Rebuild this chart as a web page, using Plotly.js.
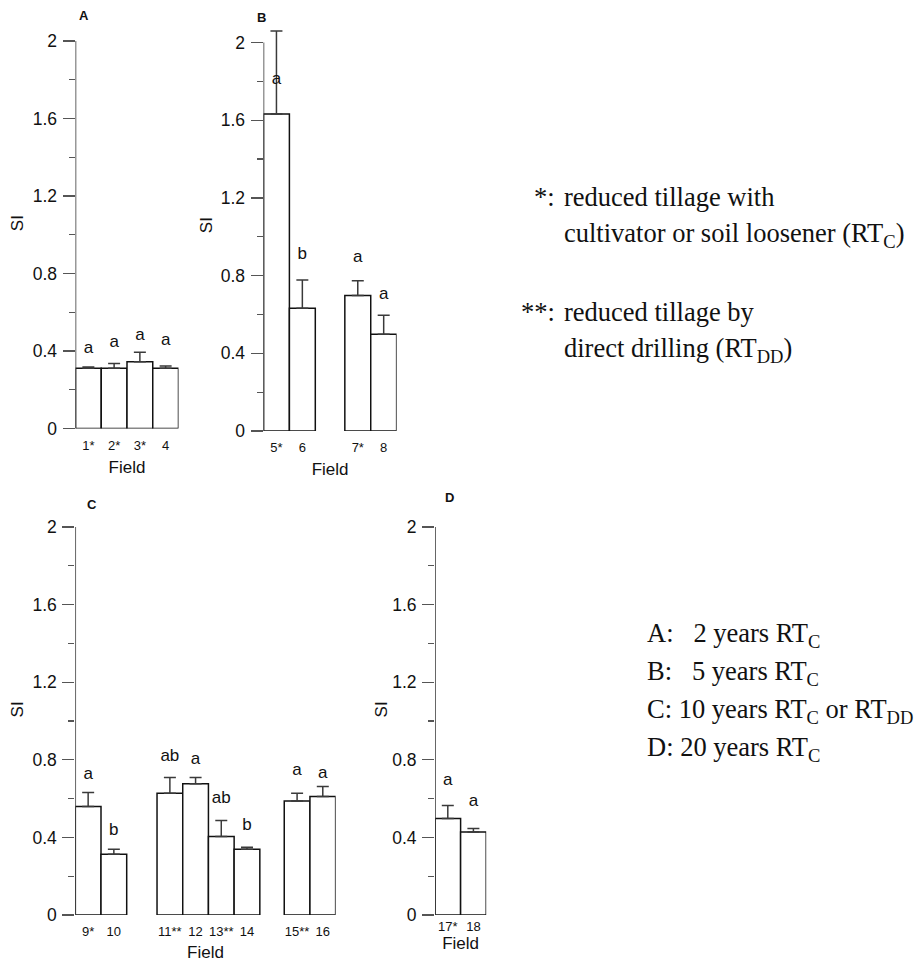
<!DOCTYPE html>
<html><head><meta charset="utf-8">
<script src="https://cdn.plot.ly/plotly-3.0.1.min.js"></script>
<style>html,body{margin:0;padding:0;background:#fff}</style>
</head><body><div id="chart" style="width:915px;height:967px"></div>
<script>
// ---------- data ----------
const fieldsA = ['1*', '2*', '3*', '4'];
const meanA   = [0.311, 0.311, 0.345, 0.311];
const errA    = [0.006, 0.025, 0.048, 0.012];
const lettersA = ['a', 'a', 'a', 'a'];
const letterYA = [0.414, 0.445, 0.479, 0.453];
const groupsA = [4];

const fieldsB = ['5*', '6', '7*', '8'];
const meanB   = [1.632, 0.632, 0.697, 0.498];
const errB    = [0.427, 0.145, 0.077, 0.098];
const lettersB = ['a', 'b', 'a', 'a'];
const letterYB = [1.807, 0.906, 0.894, 0.700];
const groupsB = [2, 2];

const fieldsC = ['9*', '10', '11**', '12', '13**', '14', '15**', '16'];
const meanC   = [0.559, 0.313, 0.628, 0.676, 0.404, 0.339, 0.588, 0.611];
const errC    = [0.072, 0.026, 0.081, 0.033, 0.083, 0.010, 0.040, 0.051];
const lettersC = ['a', 'b', 'ab', 'a', 'ab', 'b', 'a', 'a'];
const letterYC = [0.723, 0.435, 0.817, 0.800, 0.597, 0.459, 0.745, 0.728];
const groupsC = [2, 4, 2];

const fieldsD = ['17*', '18'];
const meanD   = [0.497, 0.428];
const errD    = [0.068, 0.018];
const lettersD = ['a', 'a'];
const letterYD = [0.690, 0.586];
const groupsD = [2];

const yTickVals = [0, 0.4, 0.8, 1.2, 1.6, 2];
const yTickText = ['0', '0.4', '0.8', '1.2', '1.6', '2'];

const noteLines = [
  ['*:', 'reduced tillage with'],
  ['', 'cultivator or soil loosener (RT<sub>C</sub>)'],
  ['**:', 'reduced tillage by'],
  ['', 'direct drilling (RT<sub>DD</sub>)']
];
const keyLines = [
  'A:\u00a0\u00a0\u00a02 years RT<sub>C</sub>',
  'B:\u00a0\u00a0\u00a05 years RT<sub>C</sub>',
  'C: 10 years RT<sub>C</sub> or RT<sub>DD</sub>',
  'D: 20 years RT<sub>C</sub>'
];

// ---------- layout configuration (pixels) ----------
const W = 915, H = 967;
const SANS = 'Liberation Sans, Arial, Helvetica, sans-serif';
const SERIF = 'Liberation Serif, Times New Roman, serif';
const YMAX = 2.12;

const panels = [
  {name: 'A', fields: fieldsA, mean: meanA, err: errA, letters: lettersA, letterY: letterYA, groups: groupsA,
   gaps: [], left: 75.5, unit: 25.75, y0: 428.5, y2: 41, lab: [84, 15], lso: 7, tso: 9, yso: 4},
  {name: 'B', fields: fieldsB, mean: meanB, err: errB, letters: lettersB, letterY: letterYB, groups: groupsB,
   gaps: [1.14], left: 263.5, unit: 25.9, y0: 431, y2: 42.5, lab: [261, 17], lso: 7, tso: 9, yso: 3},
  {name: 'C', fields: fieldsC, mean: meanC, err: errC, letters: lettersC, letterY: letterYC, groups: groupsC,
   gaps: [1.18, 0.95], left: 75.3, unit: 25.7, y0: 915, y2: 527, lab: [92, 504], lso: 7, tso: 8, yso: 4},
  {name: 'D', fields: fieldsD, mean: meanD, err: errD, letters: lettersD, letterY: letterYD, groups: groupsD,
   gaps: [], left: 435, unit: 25.6, y0: 915, y2: 527, lab: [449, 497], lso: 2, tso: 3, yso: 0}
];

function positions(groups, gaps) {
  const out = [];
  let x = 0;
  groups.forEach((n, g) => {
    for (let i = 0; i < n; i++) { out.push(x + 0.5); x += 1; }
    if (g < gaps.length) x += gaps[g];
  });
  return {centers: out, total: x};
}

const data = [];
const layout = {
  width: W, height: H,
  margin: {l: 0, r: 0, t: 0, b: 0},
  paper_bgcolor: '#fff', plot_bgcolor: 'rgba(0,0,0,0)',
  showlegend: false,
  bargap: 0,
  shapes: [],
  annotations: []
};

panels.forEach((p, i) => {
  const sfx = i === 0 ? '' : String(i + 1);
  const xa = 'x' + sfx, ya = 'y' + sfx;
  const pos = positions(p.groups, p.gaps);
  const s = (p.y0 - p.y2) / 2;
  const topPx = p.y0 - YMAX * s;
  const rightPx = p.left + p.unit * pos.total;

  data.push({
    type: 'bar', x: pos.centers, y: p.mean, width: 1,
    xaxis: xa, yaxis: ya,
    marker: {color: '#ffffff', line: {color: '#111111', width: 1.5}},
    error_y: {type: 'data', symmetric: false, array: p.err, arrayminus: p.err.map(() => 0),
              width: 6, thickness: 1.5, color: '#3a3a3a'},
    hoverinfo: 'skip'
  });
  data.push({
    type: 'scatter', mode: 'text', x: pos.centers, y: p.letterY, text: p.letters,
    xaxis: xa, yaxis: ya, textposition: 'middle center',
    textfont: {family: SANS, size: 17, color: '#111'}, hoverinfo: 'skip', cliponaxis: false
  });

  layout['xaxis' + sfx] = {
    domain: [p.left / W, rightPx / W], range: [0, pos.total], anchor: ya,
    showline: false, zeroline: false, showgrid: false, ticks: '',
    tickmode: 'array', tickvals: pos.centers, ticktext: p.fields,
    tickfont: {family: SANS, size: 13, color: '#111'}, ticklabelstandoff: p.lso,
    title: {text: 'Field', font: {family: SANS, size: 17, color: '#111'}, standoff: p.tso},
    fixedrange: true
  };
  layout['yaxis' + sfx] = {
    domain: [1 - p.y0 / H, 1 - topPx / H], range: [0, YMAX], anchor: xa,
    showline: false, zeroline: false, showgrid: false,
    ticks: 'outside', ticklen: 12, tickwidth: 1.2, tickcolor: '#555',
    tickmode: 'array', tickvals: yTickVals, ticktext: yTickText,
    minor: {tickvals: [0.2, 0.6, 1.0, 1.4, 1.8], ticks: 'outside', ticklen: 6, tickwidth: 1.2, tickcolor: '#555', showgrid: false},
    tickfont: {family: SANS, size: 17.5, color: '#111'}, ticklabelstandoff: 2,
    title: {text: 'SI', font: {family: SANS, size: 17, color: '#111'}, standoff: p.yso},
    fixedrange: true
  };
  // vertical axis line from 0 to 2 only
  layout.shapes.push({type: 'line', xref: xa, yref: ya, x0: 0, x1: 0, y0: 0, y1: 2,
                      line: {color: '#333', width: 1.5}});
  // panel letter
  layout.annotations.push({text: '<b>' + p.name + '</b>', xref: 'paper', yref: 'paper',
    x: p.lab[0] / W, y: 1 - p.lab[1] / H, xanchor: 'center', yanchor: 'middle', showarrow: false,
    font: {family: SANS, size: 13, color: '#111'}});
});

// ---------- explanatory text (right side) ----------
function ann(text, xpx, ypx, anchor) {
  layout.annotations.push({text: text, xref: 'paper', yref: 'paper', x: xpx / W, y: 1 - ypx / H,
    xanchor: anchor, yanchor: 'middle', showarrow: false, borderpad: 0,
    font: {family: SERIF, size: 26.5, color: '#111'}});
}
const noteY = [197, 235, 312, 350];
noteLines.forEach((ln, i) => {
  if (ln[0]) ann(ln[0], 556, noteY[i], 'right');
  ann(ln[1], 563, noteY[i], 'left');
});
keyLines.forEach((t, i) => ann(t, 646, 635 + 38 * i, 'left'));

Plotly.newPlot('chart', data, layout, {displayModeBar: false, staticPlot: true});
</script></body></html>
